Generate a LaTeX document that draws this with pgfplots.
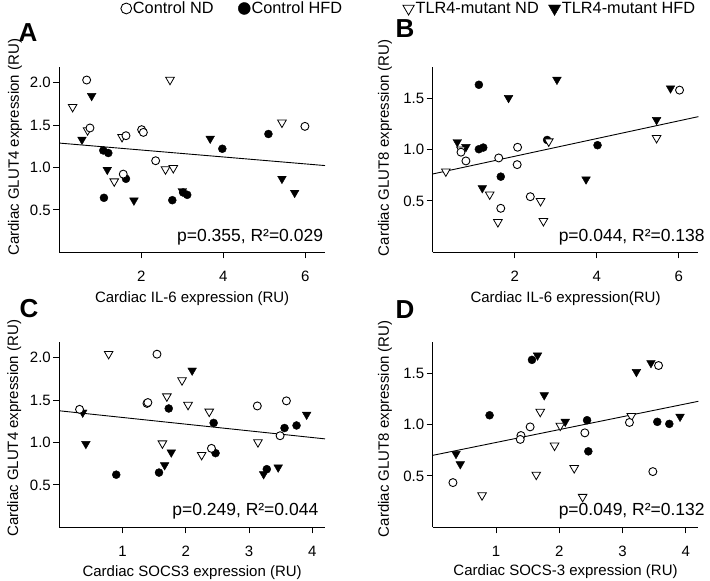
\documentclass[border=0pt]{standalone}
\usepackage{fontspec}
\setmainfont{Liberation Sans}
\usepackage{pgfplots}
\pgfplotsset{compat=1.18}
\pgfplotsset{/pgf/number format/assume math mode=true}
\tikzset{
 annot/.style={anchor=east, font=\fontsize{17.5}{20}\selectfont},
 letter/.style={font=\fontsize{26}{30}\selectfont\bfseries},
}
\pgfplotsset{
 panel/.style={
   scale only axis, width=265.7pt, height=185pt,
   axis lines*=left, tick align=outside, major tick length=6pt,
   xmin=0, ymin=0,
   axis line style={line width=0.9pt},
   tick style={line width=0.9pt, black},
   ticklabel style={font=\fontsize{15}{18}\selectfont},
   xticklabel style={yshift=-9pt},
   label style={font=\fontsize{15}{18}\selectfont},
   yticklabel style={xshift=1pt, /pgf/number format/.cd, fixed, fixed zerofill, precision=1},
   clip=false,
   legend image code/.code={\draw[##1] plot coordinates {(0pt,0pt)};},
   legend cell align=left,
   legend columns=4,
 },
 cnd/.style={only marks, mark=*, mark size=4pt, mark options={draw=black, fill=white, line width=0.9pt}, forget plot},
 chfd/.style={only marks, mark=*, mark size=4pt, mark options={draw=black, fill=black}, forget plot},
 tnd/.style={only marks, mark=triangle*, mark size=5pt, mark options={rotate=180, draw=black, fill=white, line width=0.8pt}, forget plot},
 thfd/.style={only marks, mark=triangle*, mark size=5pt, mark options={rotate=180, draw=black, fill=black}, forget plot},
 lcnd/.style={only marks, mark=*, mark size=5.4pt, mark options={draw=black, fill=white, line width=0.9pt}},
 lchfd/.style={only marks, mark=*, mark size=6pt, mark options={draw=black, fill=black}},
 ltnd/.style={only marks, mark=triangle*, mark size=6.6pt, mark options={rotate=180, draw=black, fill=white, line width=0.8pt}},
 lthfd/.style={only marks, mark=triangle*, mark size=7pt, mark options={rotate=180, draw=black, fill=black}},
 regline/.style={black, line width=0.9pt, forget plot},
}
\begin{document}
\begin{tikzpicture}
\useasboundingbox (0pt,0pt) rectangle (710pt,581pt);
% ---------------- A ----------------
\begin{axis}[panel, at={(59.3pt,328.7pt)}, anchor=south west,
  xmax=6.48, ymax=2.18, xtick={2,4,6}, ytick={0.5,1.0,1.5,2.0},
  xlabel={Cardiac IL-6 expression (RU)},
  ylabel={Cardiac GLUT4 expression (RU)},
  xlabel style={at={(axis description cs:0.5,-0.252)}, anchor=center},
  ylabel style={at={(axis description cs:-0.167,0.568)}, anchor=center},
  legend style={draw=none, fill=none, inner sep=0pt, at={(axis description cs:0.231,1.318)}, anchor=west,
    font=\fontsize{16.3}{19}\selectfont, nodes={inner xsep=1.3pt, inner ysep=1pt},
    column sep=0pt, /tikz/every even column/.append style={column sep=23.4pt}},
]
\addlegendimage{lcnd}
\addlegendentry{Control ND}
\addlegendimage{lchfd}
\addlegendentry{Control HFD}
\addplot[regline] coordinates {(0,1.287) (6.48,1.022)};
\addplot[chfd] coordinates {(1.073,1.20) (1.195,1.17) (1.626,0.866) (1.089,0.642) (2.756,0.614) (3.02,0.705) (3.12,0.677) (3.976,1.22) (5.10,1.394)};
\addplot[thfd] coordinates {(0.553,1.328) (0.789,1.843) (1.17,0.973) (1.82,0.611) (3.0,0.722) (3.68,1.34) (5.43,0.867) (5.74,0.702)};
\addplot[tnd] coordinates {(0.325,1.713) (0.69,1.438) (2.70,2.033) (1.34,0.836) (1.53,1.359) (2.59,0.978) (2.78,0.993) (5.43,1.529)};
\addplot[cnd] coordinates {(0.667,2.03) (0.748,1.465) (1.626,1.374) (2.008,1.445) (2.05,1.413) (2.35,1.079) (1.56,0.921) (5.99,1.484)};
\node[annot] at (axis description cs:1.006,0.083) {p=0.355, R²=0.029};
\end{axis}
% ---------------- B ----------------
\begin{axis}[panel, at={(432.7pt,328.7pt)}, anchor=south west,
  xmax=6.48, ymax=1.8, xtick={2,4,6}, ytick={0.5,1.0,1.5},
  xlabel={Cardiac IL-6 expression(RU)},
  ylabel={Cardiac GLUT8 expression (RU)},
  xlabel style={at={(axis description cs:0.5,-0.252)}, anchor=center},
  ylabel style={at={(axis description cs:-0.180,0.565)}, anchor=center},
  legend style={draw=none, fill=none, inner sep=0pt, at={(axis description cs:-0.113,1.318)}, anchor=west,
    font=\fontsize{16.3}{19}\selectfont, nodes={inner xsep=1.3pt, inner ysep=1pt},
    column sep=0pt, /tikz/every even column/.append style={column sep=8.4pt}},
]
\addlegendimage{ltnd}
\addlegendentry{TLR4-mutant ND}
\addlegendimage{lthfd}
\addlegendentry{TLR4-mutant HFD}
\addplot[regline] coordinates {(0,0.762) (6.48,1.32)};
\addplot[chfd] coordinates {(1.126,1.63) (1.126,1.003) (1.233,1.019) (2.79,1.093) (1.66,0.736) (4.02,1.042)};
\addplot[thfd] coordinates {(0.60,1.073) (0.81,1.025) (1.21,0.625) (1.85,1.502) (3.03,1.68) (3.74,0.71) (5.46,1.288) (5.80,1.596)};
\addplot[tnd] coordinates {(0.32,0.787) (0.69,1.0) (1.39,0.563) (1.59,0.294) (2.63,0.499) (2.70,0.304) (2.83,1.079) (5.46,1.112)};
\addplot[cnd] coordinates {(0.69,0.974) (0.81,0.889) (1.61,0.918) (2.07,1.022) (2.06,0.853) (2.38,0.541) (1.66,0.428) (6.02,1.578)};
\node[annot] at (axis description cs:1.037,0.083) {p=0.044, R²=0.138};
\end{axis}
% ---------------- C ----------------
\begin{axis}[panel, at={(59.3pt,53.7pt)}, anchor=south west,
  xmax=4.2, ymax=2.18, xtick={1,2,3,4}, ytick={0.5,1.0,1.5,2.0},
  xlabel={Cardiac SOCS3 expression (RU)},
  ylabel={Cardiac GLUT4 expression (RU)},
  xlabel style={at={(axis description cs:0.5,-0.244)}, anchor=center},
  ylabel style={at={(axis description cs:-0.170,0.535)}, anchor=center},
]
\addplot[regline] coordinates {(0,1.373) (4.2,1.042)};
\addplot[chfd] coordinates {(0.90,0.62) (1.73,1.40) (1.576,0.645) (2.44,1.23) (2.47,0.874) (3.28,0.685) (3.56,1.17) (3.75,1.20)};
\addplot[thfd] coordinates {(0.37,1.353) (0.42,0.983) (2.10,1.848) (1.665,0.733) (1.77,0.883) (3.23,0.627) (3.46,0.706) (3.91,1.328)};
\addplot[tnd] coordinates {(0.78,2.043) (1.70,1.543) (1.94,1.733) (2.035,1.443) (1.63,0.989) (2.25,0.853) (2.37,1.363) (3.14,1.003)};
\addplot[cnd] coordinates {(0.32,1.39) (1.386,1.46) (1.40,1.47) (1.544,2.04) (3.13,1.43) (3.59,1.49) (3.49,1.079) (2.405,0.93)};
\node[annot] at (axis description cs:0.988,0.089) {p=0.249, R²=0.044};
\end{axis}
% ---------------- D ----------------
\begin{axis}[panel, at={(432.7pt,53.7pt)}, anchor=south west,
  xmax=4.2, ymax=1.8, xtick={1,2,3,4}, ytick={0.5,1.0,1.5},
  xlabel={Cardiac SOCS-3 expression (RU)},
  ylabel={Cardiac GLUT8 expression (RU)},
  xlabel style={at={(axis description cs:0.5,-0.242)}, anchor=center},
  ylabel style={at={(axis description cs:-0.180,0.533)}, anchor=center},
]
\addplot[regline] coordinates {(0,0.70) (4.2,1.226)};
\addplot[chfd] coordinates {(0.899,1.09) (1.569,1.629) (2.44,1.042) (2.46,0.739) (3.55,1.026) (3.74,1.006)};
\addplot[thfd] coordinates {(0.368,0.715) (0.436,0.615) (1.657,1.673) (1.763,1.286) (2.095,1.028) (3.22,1.512) (3.45,1.599) (3.91,1.077)};
\addplot[tnd] coordinates {(0.78,0.312) (1.637,0.512) (1.70,1.124) (1.926,0.795) (2.016,0.989) (2.237,0.576) (2.37,0.296) (3.14,1.082)};
\addplot[cnd] coordinates {(0.32,0.435) (1.395,0.893) (1.384,0.855) (1.54,0.977) (2.405,0.919) (3.11,1.02) (3.57,1.574) (3.48,0.542)};
\node[annot] at (axis description cs:1.037,0.089) {p=0.049, R²=0.132};
\end{axis}
% panel letters
\node[letter] at (28pt,548.5pt) {A};
\node[letter] at (405pt,552.5pt) {B};
\node[letter] at (29pt,272pt) {C};
\node[letter] at (405pt,271pt) {D};
\end{tikzpicture}
\end{document}
